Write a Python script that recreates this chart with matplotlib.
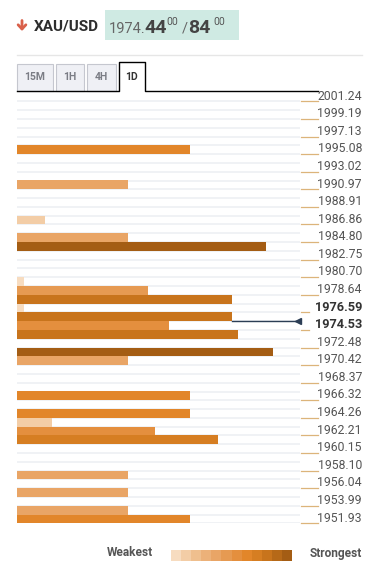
import numpy as np
import matplotlib
matplotlib.use('Agg')
import matplotlib.pyplot as plt
from matplotlib.patches import Rectangle
from matplotlib.transforms import blended_transform_factory

plt.rcParams['font.family'] = ['Roboto', 'DejaVu Sans']

# price labels on the right
levels = [2001.24, 1999.19, 1997.13, 1995.08, 1993.02, 1990.97, 1988.91,
          1986.86, 1984.80, 1982.75, 1980.70, 1978.64, 1976.59, 1974.53,
          1972.48, 1970.42, 1968.37, 1966.32, 1964.26, 1962.21, 1960.15,
          1958.10, 1956.04, 1953.99, 1951.93]
bold_levels = [1976.59, 1974.53]

# confluence bars
bar_prices = [1995.08, 1990.97, 1986.86, 1984.80, 1983.78, 1979.67, 1978.64,
              1977.61, 1976.59, 1975.56, 1974.53, 1973.50, 1971.45, 1970.42,
              1966.32, 1964.26, 1963.23, 1962.21, 1961.18, 1957.07, 1955.02,
              1952.96, 1951.93]
strength = [25, 16, 4, 16, 36, 1, 19, 31, 1, 31, 22, 32, 37, 16,
            25, 25, 5, 20, 29, 16, 16, 16, 25]

current_price = 1975.05
symbol = 'XAU/USD'
bid, ask = '1974.44', '1974.84'
timeframes = ['15M', '1H', '4H', '1D']

palette = ['#f7dcc0', '#f3cda6', '#efbf8e', '#ecb179', '#e9a566', '#e69a52',
           '#e48f3e', '#e2862a', '#d67e22', '#c8741c', '#b66918', '#a45d14']

W, H = 382, 582
fig = plt.figure(figsize=(W/100, H/100), dpi=100, facecolor='white')

# pixel-coordinate overlay for header / legend
bg = fig.add_axes([0, 0, 1, 1])
bg.set_xlim(0, W)
bg.set_ylim(H, 0)
bg.axis('off')

step = (levels[0] - levels[-1]) / 48.0
top_px, bot_px = 97 - 8.79/2, 519 + 8.79/2
ax = fig.add_axes([17/W, 1 - bot_px/H, 283/W, (bot_px - top_px)/H])
ax.patch.set_visible(False)
xmax = 283/6.92
ax.set_xlim(0, xmax)
ax.set_ylim(levels[-1] - step/2, levels[0] + step/2)
ax.axis('off')

# row separators
for r in range(49):
    yb = levels[0] - step*(r + 0.5)
    ax.plot([0, xmax], [yb, yb], color='#eef0f4', lw=1.2, zorder=0,
            solid_capstyle='butt')

cols = [palette[min(11, int(s/3.25))] for s in strength]
ax.barh(bar_prices, strength, height=step, left=0, color=cols, zorder=2,
        linewidth=0)

# current price marker
ax.plot([31, xmax - 0.3], [current_price, current_price], color='#2c3e55',
        lw=1, zorder=3)
ax.plot([xmax - 0.3], [current_price], marker='<', color='#2c3e55',
        markersize=5, zorder=3, clip_on=False)

# right labels
tr = blended_transform_factory(ax.transAxes, ax.transData)
for lv in levels:
    b = lv in bold_levels
    ax.text(1.219, lv + 0.1, '%.2f' % lv, transform=tr, ha='right',
            va='center', fontsize=9.2 if b else 8.8,
            fontweight='bold' if b else 'normal',
            color='#333333' if b else '#555555', clip_on=False)
    x1 = 1.032 if b else 1.062
    ax.plot([1.0035, x1], [lv - step/2, lv - step/2], transform=tr,
            color='#dcb47a', lw=0.9, clip_on=False)

# header
bg.annotate('', xy=(22, 31), xytext=(22, 20.5),
            arrowprops=dict(arrowstyle='->,head_length=0.3,head_width=0.28',
                            color='#d9604a', lw=2.0, shrinkA=0, shrinkB=0))
bg.text(34, 26.5, symbol, fontsize=11, fontweight='bold', color='#2d2d2d',
        va='center', ha='left')
bg.add_patch(Rectangle((105, 10), 134, 30, color='#cfeae3', lw=0))
bg.text(109, 32.7, bid[:5], fontsize=10.5, color='#666666', va='baseline')
bg.text(144, 32.7, bid[5:], fontsize=14, fontweight='bold', color='#444444',
        va='baseline')
bg.text(166, 25, '00', fontsize=7.5, color='#555555', va='baseline')
bg.text(182, 32.7, '/', fontsize=10.5, color='#666666', va='baseline')
bg.text(188, 32.7, ask[5:], fontsize=14, fontweight='bold', color='#444444',
        va='baseline')
bg.text(213, 25, '00', fontsize=7.5, color='#555555', va='baseline')
bg.plot([17, 362], [55, 55], color='#e6e6e6', lw=1)

# timeframe tabs
tabs = [(17.3, 52.7), (55.7, 84), (87.3, 116)]
for (x0, x1), name in zip(tabs, timeframes[:3]):
    bg.add_patch(Rectangle((x0, 64), x1 - x0, 26.5, fc='#eff0f5',
                           ec='#c5c7cf', lw=0.8))
    bg.text((x0 + x1)/2, 77.5, name, fontsize=7.5, fontweight='bold',
            color='#7b7d85', ha='center', va='center')
bg.plot([17, 118.7, 118.7, 145, 145, 318], [90.7, 90.7, 62, 62, 90.7, 90.7],
        color='black', lw=1)
bg.text(131.8, 77.5, timeframes[3], fontsize=7.5, fontweight='bold',
        color='#333333', ha='center', va='center')

# legend
bg.text(153, 553, 'Weakest', fontsize=8.6, fontweight='bold',
        color='#555555', ha='right', va='center')
gx = np.linspace(171, 292, len(palette) + 1)
for i, c in enumerate(palette):
    bg.add_patch(Rectangle((gx[i], 550), gx[i+1] - gx[i], 10.5, color=c, lw=0))
bg.text(310, 553, 'Strongest', fontsize=8.6, fontweight='bold',
        color='#555555', ha='left', va='center')

fig.savefig('out.png', dpi=100, facecolor='white')
